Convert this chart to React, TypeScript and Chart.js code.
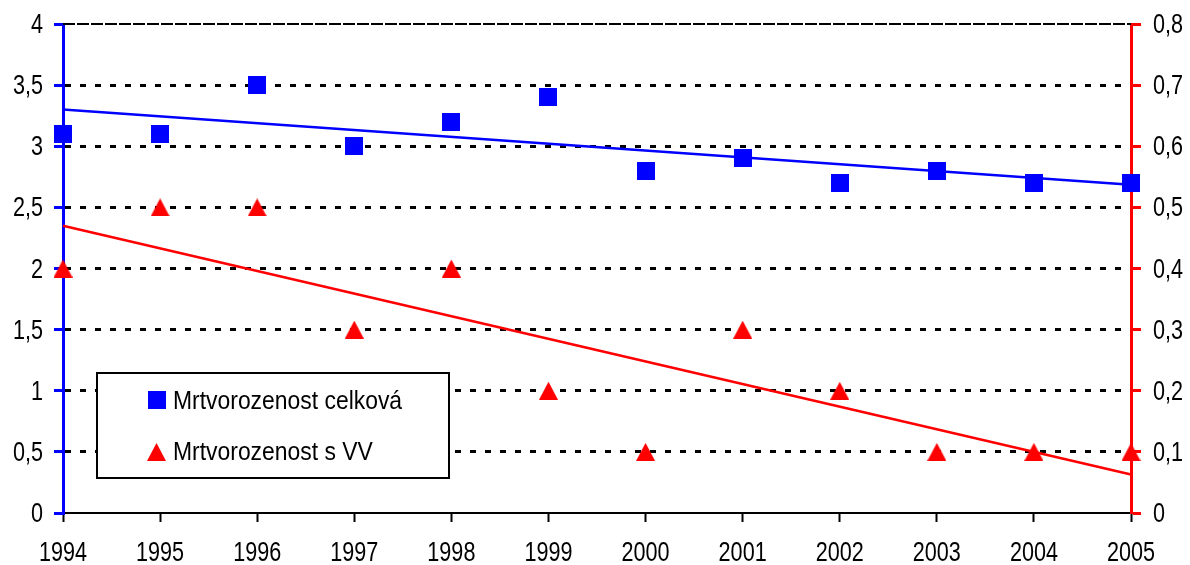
import React, { useEffect, useRef } from "react";
import { Chart, registerables } from "chart.js";

Chart.register(...registerables);

const years = [1994, 1995, 1996, 1997, 1998, 1999, 2000, 2001, 2002, 2003, 2004, 2005];
const celkova = [3.1, 3.1, 3.5, 3.0, 3.2, 3.4, 2.8, 2.9, 2.7, 2.8, 2.7, 2.7];
const sVV = [0.4, 0.5, 0.5, 0.3, 0.4, 0.2, 0.1, 0.3, 0.2, 0.1, 0.1, 0.1];
const trendCelkovaEnds = [3.3, 2.685];
const trendVVEnds = [0.47, 0.063];
const seriesNames = ["Mrtvorozenost celková", "Mrtvorozenost s VV"];

const BLUE = "#0000FF";
const RED = "#FF0000";
const FONT = "'Liberation Sans', Arial, sans-serif";
const TICK_SIZE = 27;
const TICK_SQUEEZE = 0.8;
const LEG_SIZE = 25;
const LEG_SQUEEZE = 0.916;

const fmt = (v: number, digits: number) => {
  if (Math.abs(v) < 1e-9) return "0";
  const s = Number(v.toFixed(digits)).toString();
  return s.replace(".", ",");
};

function makeTriangle(w: number, h: number, color: string) {
  const c = document.createElement("canvas");
  c.width = w;
  c.height = h;
  const g = c.getContext("2d")!;
  g.fillStyle = color;
  g.beginPath();
  g.moveTo(w / 2, 0);
  g.lineTo(w, h);
  g.lineTo(0, h);
  g.closePath();
  g.fill();
  return c;
}

function makeSquare(s: number, color: string) {
  const c = document.createElement("canvas");
  c.width = s;
  c.height = s;
  const g = c.getContext("2d")!;
  g.fillStyle = color;
  g.fillRect(0, 0, s, s);
  return c;
}

// draws condensed text (real canvas text, horizontally squeezed)
function squeezedText(ctx: any, text: string, x: number, y: number, align: string, squeeze: number) {
  ctx.save();
  ctx.textAlign = align;
  ctx.scale(squeeze, 1);
  ctx.fillText(text, x / squeeze, y);
  ctx.restore();
}

export default function App() {
  const ref = useRef<HTMLCanvasElement | null>(null);

  useEffect(() => {
    if (!ref.current) return;

    const tri = makeTriangle(19, 18, RED);
    const sq = makeSquare(18, BLUE);

    const overlayPlugin = {
      id: "overlay",
      beforeDatasetsDraw(chart: any) {
        const { ctx, chartArea } = chart;
        ctx.save();
        ctx.strokeStyle = "#000";
        ctx.lineWidth = 2;
        ctx.setLineDash([12, 2]);
        ctx.beginPath();
        ctx.moveTo(chartArea.left, chartArea.top);
        ctx.lineTo(chartArea.right, chartArea.top);
        ctx.stroke();
        ctx.restore();
      },
      afterDraw(chart: any) {
        const { ctx } = chart;
        const sx = chart.scales.x;
        const sy = chart.scales.y;
        const sy2 = chart.scales.y2;
        ctx.save();
        ctx.fillStyle = "#000";
        ctx.font = `${TICK_SIZE}px ${FONT}`;
        ctx.textBaseline = "alphabetic";
        sx.ticks.forEach((t: any) => {
          const px = sx.getPixelForValue(t.value);
          squeezedText(ctx, String(t.value), px, 561, "center", TICK_SQUEEZE);
        });
        sy.ticks.forEach((t: any) => {
          const py = sy.getPixelForValue(t.value);
          squeezedText(ctx, fmt(t.value, 1), 43, py + 9, "right", TICK_SQUEEZE);
        });
        sy2.ticks.forEach((t: any) => {
          const py = sy2.getPixelForValue(t.value);
          squeezedText(ctx, fmt(t.value, 1), 1153, py + 9, "left", TICK_SQUEEZE);
        });

        // legend
        const bx = 97, by = 373, bw = 352, bh = 105;
        ctx.fillStyle = "#fff";
        ctx.fillRect(bx, by, bw, bh);
        ctx.strokeStyle = "#000";
        ctx.lineWidth = 2;
        ctx.setLineDash([]);
        ctx.strokeRect(bx, by, bw, bh);
        ctx.drawImage(sq, 148, 391);
        ctx.drawImage(tri, 147, 443);
        ctx.fillStyle = "#000";
        ctx.font = `${LEG_SIZE}px ${FONT}`;
        squeezedText(ctx, seriesNames[0], 173, 409, "left", LEG_SQUEEZE);
        squeezedText(ctx, seriesNames[1], 173, 460, "left", LEG_SQUEEZE);
        ctx.restore();
      },
    };

    const chart = new Chart(ref.current, {
      type: "line",
      data: {
        datasets: [
          {
            label: seriesNames[0],
            data: years.map((y, i) => ({ x: y, y: celkova[i] })),
            showLine: false,
            pointStyle: sq,
            pointRadius: 9,
            backgroundColor: BLUE,
            borderColor: BLUE,
            yAxisID: "y",
            clip: false,
          },
          {
            label: seriesNames[1],
            data: years.map((y, i) => ({ x: y, y: sVV[i] })),
            showLine: false,
            pointStyle: tri,
            pointRadius: 9,
            backgroundColor: RED,
            borderColor: RED,
            yAxisID: "y2",
            clip: false,
          },
          {
            label: "trend1",
            data: [
              { x: years[0], y: trendCelkovaEnds[0] },
              { x: years[years.length - 1], y: trendCelkovaEnds[1] },
            ],
            borderColor: BLUE,
            borderWidth: 2.5,
            pointRadius: 0,
            yAxisID: "y",
            clip: false,
          },
          {
            label: "trend2",
            data: [
              { x: years[0], y: trendVVEnds[0] },
              { x: years[years.length - 1], y: trendVVEnds[1] },
            ],
            borderColor: RED,
            borderWidth: 2.5,
            pointRadius: 0,
            yAxisID: "y2",
            clip: false,
          },
        ],
      },
      options: {
        responsive: false,
        animation: false,
        events: [],
        layout: { padding: { top: 24, left: 0, right: 0, bottom: 0 }, autoPadding: false },
        plugins: { legend: { display: false }, tooltip: { enabled: false } },
        scales: {
          x: {
            type: "linear",
            min: 1994,
            max: 2005,
            afterFit: (s: any) => { s.height = 52; },
            ticks: { display: false, stepSize: 1, autoSkip: false },
            grid: {
              drawOnChartArea: false,
              drawTicks: true,
              tickLength: 9,
              tickColor: "#000",
              tickWidth: 2,
            },
            border: { color: "#000", width: 2 },
          },
          y: {
            position: "left",
            min: 0,
            max: 4,
            afterFit: (s: any) => { s.width = 63; },
            ticks: { display: false, stepSize: 0.5 },
            grid: {
              color: (c: any) =>
                c.tick && (c.tick.value === 0 || c.tick.value === 4) ? "rgba(0,0,0,0)" : "#000",
              lineWidth: 3,
              tickBorderDash: [],
              tickColor: BLUE,
              tickLength: 9,
              tickWidth: 3,
            },
            border: { color: BLUE, width: 3, dash: [6, 9] },
          },
          y2: {
            position: "right",
            min: 0,
            max: 0.8,
            afterFit: (s: any) => { s.width = 59; },
            ticks: { display: false, stepSize: 0.1 },
            grid: {
              drawOnChartArea: false,
              tickColor: RED,
              tickLength: 10,
              tickWidth: 3,
            },
            border: { color: RED, width: 3 },
          },
        },
      },
      plugins: [overlayPlugin],
    } as any);

    return () => chart.destroy();
  }, []);

  return (
    <div style={{ position: "fixed", left: 0, top: 0, width: 1190, height: 565, background: "#fff" }}>
      <canvas ref={ref} width={1190} height={565} style={{ width: 1190, height: 565, display: "block" }} />
    </div>
  );
}
